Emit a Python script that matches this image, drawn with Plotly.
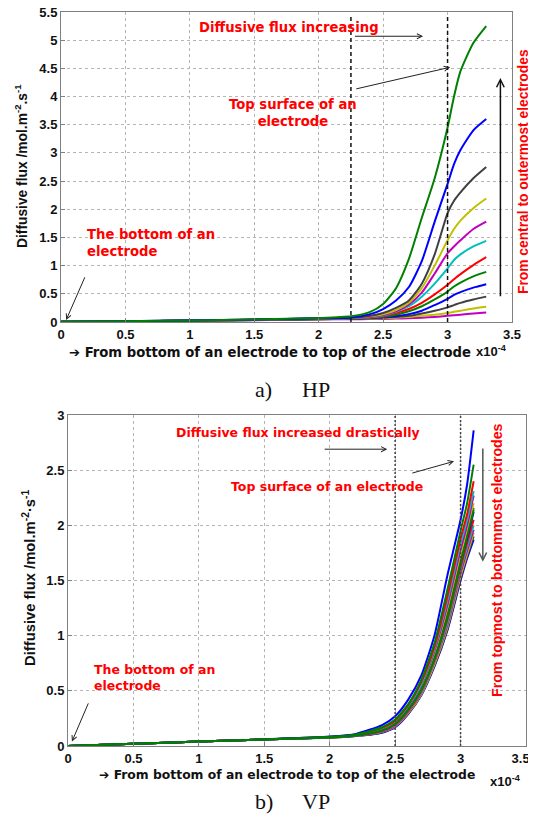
import plotly.graph_objects as go

# ---------------- DATA ----------------
# x positions in units of 1e-4 (axis labelled x10^-4)
hp_x = [0, 0.5, 1.0, 1.5, 2.0, 2.25, 2.4, 2.5, 2.6, 2.7, 2.8, 2.9, 3.0, 3.05, 3.1, 3.2, 3.3]

# HP curves, from lowest (innermost) to highest (outermost)
hp_m2 = [0.005, 0.012, 0.022, 0.033, 0.045, 0.05, 0.052, 0.055, 0.06, 0.065, 0.075, 0.09, 0.11, 0.12, 0.13, 0.15, 0.17]
hp_y2 = [0.005, 0.012, 0.022, 0.034, 0.048, 0.055, 0.06, 0.065, 0.075, 0.09, 0.11, 0.13, 0.16, 0.18, 0.2, 0.24, 0.27]
hp_k2 = [0.005, 0.012, 0.023, 0.035, 0.05, 0.058, 0.065, 0.075, 0.09, 0.11, 0.15, 0.2, 0.26, 0.3, 0.34, 0.4, 0.45]
hp_b2 = [0.005, 0.012, 0.023, 0.036, 0.052, 0.06, 0.07, 0.085, 0.105, 0.14, 0.2, 0.3, 0.41, 0.48, 0.53, 0.61, 0.67]
hp_g2 = [0.005, 0.013, 0.024, 0.037, 0.054, 0.063, 0.075, 0.095, 0.13, 0.19, 0.28, 0.4, 0.54, 0.63, 0.7, 0.81, 0.89]
hp_r1 = [0.005, 0.013, 0.024, 0.038, 0.056, 0.066, 0.08, 0.105, 0.16, 0.23, 0.34, 0.49, 0.66, 0.76, 0.85, 1.01, 1.15]
hp_c1 = [0.005, 0.013, 0.025, 0.039, 0.058, 0.068, 0.085, 0.115, 0.18, 0.28, 0.45, 0.68, 0.95, 1.1, 1.2, 1.34, 1.44]
hp_m1 = [0.005, 0.013, 0.025, 0.04, 0.06, 0.07, 0.09, 0.125, 0.19, 0.31, 0.52, 0.86, 1.22, 1.34, 1.45, 1.65, 1.78]
hp_y1 = [0.005, 0.013, 0.026, 0.041, 0.062, 0.072, 0.1, 0.135, 0.21, 0.34, 0.6, 1.0, 1.45, 1.65, 1.8, 2.02, 2.19]
hp_k1 = [0.005, 0.014, 0.026, 0.042, 0.064, 0.075, 0.11, 0.16, 0.25, 0.38, 0.68, 1.2, 1.93, 2.15, 2.3, 2.55, 2.75]
hp_b1 = [0.005, 0.014, 0.027, 0.043, 0.066, 0.08, 0.14, 0.23, 0.38, 0.62, 1.08, 1.78, 2.45, 2.8, 3.05, 3.4, 3.6]
hp_g1 = [0.005, 0.014, 0.028, 0.045, 0.07, 0.1, 0.18, 0.32, 0.6, 1.12, 1.85, 2.55, 3.45, 4.0, 4.45, 4.95, 5.25]

hp_series = [hp_m2, hp_y2, hp_k2, hp_b2, hp_g2, hp_r1, hp_c1, hp_m1, hp_y1, hp_k1, hp_b1, hp_g1]
hp_colors = ["#c000c0", "#c0c000", "#404040", "#0000ff", "#008000", "#ff0000",
             "#00bfbf", "#c000c0", "#c0c000", "#404040", "#0000ff", "#008000"]

vp_x = [0, 0.5, 1.0, 1.5, 2.0, 2.2, 2.4, 2.5, 2.6, 2.7, 2.8, 2.9, 3.0, 3.05, 3.1]

vp_b1 = [0, 0.02, 0.04, 0.06, 0.085, 0.11, 0.19, 0.27, 0.42, 0.64, 1.0, 1.55, 2.05, 2.37, 2.86]
vp_g1 = [0, 0.02, 0.04, 0.06, 0.083, 0.105, 0.17, 0.24, 0.38, 0.6, 0.93, 1.42, 1.95, 2.2, 2.55]
vp_r1 = [0, 0.02, 0.04, 0.06, 0.082, 0.103, 0.165, 0.23, 0.37, 0.58, 0.9, 1.36, 1.88, 2.1, 2.40]
vp_c1 = [0, 0.02, 0.04, 0.06, 0.081, 0.1, 0.16, 0.225, 0.36, 0.56, 0.88, 1.32, 1.83, 2.05, 2.31]
vp_m1 = [0, 0.02, 0.04, 0.06, 0.08, 0.1, 0.155, 0.22, 0.35, 0.55, 0.86, 1.28, 1.78, 2.0, 2.27]
vp_y1 = [0, 0.02, 0.04, 0.06, 0.08, 0.098, 0.15, 0.215, 0.345, 0.54, 0.84, 1.25, 1.74, 1.95, 2.2]
vp_k1 = [0, 0.02, 0.04, 0.06, 0.079, 0.097, 0.148, 0.21, 0.34, 0.53, 0.82, 1.22, 1.7, 1.92, 2.16]
vp_b2 = [0, 0.02, 0.04, 0.06, 0.079, 0.096, 0.145, 0.205, 0.335, 0.52, 0.8, 1.19, 1.67, 1.88, 2.12]
vp_g2 = [0, 0.02, 0.04, 0.06, 0.078, 0.095, 0.14, 0.2, 0.33, 0.51, 0.79, 1.17, 1.65, 1.9, 2.14]
vp_r2 = [0, 0.02, 0.04, 0.06, 0.078, 0.094, 0.138, 0.195, 0.32, 0.5, 0.78, 1.15, 1.62, 1.84, 2.05]
vp_c2 = [0, 0.02, 0.04, 0.06, 0.077, 0.093, 0.135, 0.19, 0.315, 0.49, 0.77, 1.12, 1.6, 1.8, 2.0]
vp_m2 = [0, 0.02, 0.04, 0.06, 0.077, 0.092, 0.132, 0.185, 0.31, 0.48, 0.76, 1.1, 1.57, 1.77, 1.96]
vp_y2 = [0, 0.02, 0.04, 0.06, 0.076, 0.091, 0.128, 0.18, 0.3, 0.47, 0.74, 1.08, 1.54, 1.74, 1.93]
vp_k2 = [0, 0.02, 0.04, 0.06, 0.076, 0.09, 0.125, 0.175, 0.295, 0.465, 0.73, 1.06, 1.52, 1.72, 1.9]
vp_b3 = [0, 0.02, 0.04, 0.06, 0.075, 0.09, 0.12, 0.17, 0.29, 0.46, 0.72, 1.05, 1.5, 1.7, 1.87]

vp_series = [vp_b3, vp_k2, vp_y2, vp_m2, vp_c2, vp_r2, vp_b2, vp_k1, vp_y1, vp_m1,
             vp_c1, vp_r1, vp_b1, vp_g2, vp_g1]
vp_colors = ["#0000ff", "#404040", "#c0c000", "#c000c0", "#00bfbf", "#ff0000", "#0000ff",
             "#404040", "#c0c000", "#c000c0", "#00bfbf", "#ff0000", "#0000ff", "#008000", "#008000"]

x_ticks = [0, 0.5, 1, 1.5, 2, 2.5, 3, 3.5]
x_ticktext = ["0", "0.5", "1", "1.5", "2", "2.5", "3", "3.5"]
# last VP label is pushed left (as in the original) so it stays inside the window
vp_x_ticktext = ["0", "0.5", "1", "1.5", "2", "2.5", "3", "3.5\u00a0\u00a0\u00a0"]
hp_y_ticks = [0, 0.5, 1, 1.5, 2, 2.5, 3, 3.5, 4, 4.5, 5, 5.5]
hp_y_ticktext = ["0", "0.5", "1", "1.5", "2", "2.5", "3", "3.5", "4", "4.5", "5", "5.5"]
vp_y_ticks = [0, 0.5, 1, 1.5, 2, 2.5, 3]
vp_y_ticktext = ["0", "0.5", "1", "1.5", "2", "2.5", "3"]

hp_vlines = [2.25, 3.0]
vp_vlines = [2.5, 3.0]

# ---------------- FIGURE ----------------
OFF = 8            # page body margin of the html page
W, H = 528, 807    # figure size so that figure + page margin fills the window


def px(x):
    return (x - OFF) / W


def py(y):
    return 1 - (y - OFF) / H


fig = go.Figure()

for ys, col in zip(hp_series, hp_colors):
    fig.add_trace(go.Scatter(x=hp_x, y=ys, mode="lines", xaxis="x", yaxis="y",
                             line=dict(color=col, width=2, shape="spline", smoothing=0.6),
                             showlegend=False, hoverinfo="skip"))
for ys, col in zip(vp_series, vp_colors):
    fig.add_trace(go.Scatter(x=vp_x, y=ys, mode="lines", xaxis="x2", yaxis="y2",
                             line=dict(color=col, width=2, shape="spline", smoothing=0.6),
                             showlegend=False, hoverinfo="skip"))

TICKFONT = dict(family="Arial, Liberation Sans", size=13, color="#111", weight="bold")


def ax_common():
    return dict(showgrid=True, gridcolor="#b5b5b5", griddash="dot", gridwidth=1,
                showline=True, mirror=True, linecolor="#808080", linewidth=1,
                ticks="inside", ticklen=4, tickcolor="#808080", ticklabeloverflow="allow",
                tickfont=TICKFONT, zeroline=False, fixedrange=True, automargin=False)


fig.update_layout(
    width=W, height=H, margin=dict(l=0, r=0, t=0, b=0, autoexpand=False),
    paper_bgcolor="white", plot_bgcolor="white",
    xaxis=dict(domain=[px(61), px(512)], range=[0, 3.5], tickvals=x_ticks, ticktext=x_ticktext,
               anchor="y", **ax_common()),
    yaxis=dict(domain=[py(322), py(12)], range=[0, 5.5], tickvals=hp_y_ticks,
               ticktext=hp_y_ticktext, anchor="x", **ax_common()),
    xaxis2=dict(domain=[px(68), px(526)], range=[0, 3.5], tickvals=x_ticks, ticktext=vp_x_ticktext,
                anchor="y2", **ax_common()),
    yaxis2=dict(domain=[py(746), py(415)], range=[0, 3], tickvals=vp_y_ticks,
                ticktext=vp_y_ticktext, anchor="x2", **ax_common()),
)

shapes = []
for xv in hp_vlines:
    shapes.append(dict(type="line", xref="x", yref="y", x0=xv, x1=xv, y0=0, y1=5.45,
                       line=dict(color="#111", width=1.5, dash="4px,3px")))
for xv in vp_vlines:
    shapes.append(dict(type="line", xref="x2", yref="y2", x0=xv, x1=xv, y0=0, y1=3,
                       line=dict(color="#444", width=1.5, dash="2px,2px")))
fig.update_layout(shapes=shapes)

RED_HP = dict(family="DejaVu Sans", size=13.2, color="#ff0000", weight="bold")
RED_VP = dict(family="DejaVu Sans", size=12.5, color="#ff0000", weight="bold")
RED_V1 = dict(family="Arial, Liberation Sans", size=13.8, color="#ff0000", weight="bold")
RED_V2 = dict(family="Arial, Liberation Sans", size=14.2, color="#ff0000", weight="bold")
XLBL_HP = dict(family="DejaVu Sans", size=13.2, color="#111", weight="bold")
XLBL_VP = dict(family="DejaVu Sans", size=12.35, color="#111", weight="bold")
YLBL_HP = dict(family="Arial, Liberation Sans", size=13.8, color="#111", weight="bold")
YLBL_VP = dict(family="Arial, Liberation Sans", size=14.8, color="#111", weight="bold")
EXP = dict(family="Arial, Liberation Sans", size=13, color="#111", weight="bold")
CAP = dict(family="Times New Roman, Liberation Serif, serif", size=22, color="#111")

ARW = dict(showarrow=True, arrowhead=5, arrowsize=1, arrowwidth=1, arrowcolor="#222", text="")


def paper_text(x, y, text, font, angle=0, xanchor="center"):
    return dict(xref="paper", yref="paper", x=px(x), y=py(y), text=text, font=font,
                textangle=angle, showarrow=False, xanchor=xanchor, yanchor="middle")


ann = []
# ---- HP annotations ----
ann.append(dict(xref="x", yref="y", x=1.77, y=5.23, text="Diffusive flux increasing",
                showarrow=False, font=RED_HP, xanchor="center", yanchor="middle"))
ann.append(dict(xref="x", yref="y", x=2.81, y=5.07, ax=2.27, ay=5.07, axref="x", ayref="y", **ARW))
ann.append(dict(xref="x", yref="y", x=3.02, y=4.52, ax=2.28, ay=4.13, axref="x", ayref="y", **ARW))
ann.append(dict(xref="x", yref="y", x=1.80, y=3.71, text="Top surface of an<br>electrode",
                showarrow=False, font=RED_HP, align="center", xanchor="center", yanchor="middle"))
ann.append(dict(xref="x", yref="y", x=0.19, y=1.40, text="The bottom of an<br>electrode",
                showarrow=False, font=RED_HP, align="left", xanchor="left", yanchor="middle"))
ann.append(dict(xref="x", yref="y", x=0.04, y=0.035, ax=0.19, ay=0.82, axref="x", ayref="y", **ARW))
ann.append(dict(xref="x", yref="y", x=3.41, y=4.33, ax=3.41, ay=0.43, axref="x", ayref="y",
                text="", showarrow=True, arrowhead=5, arrowsize=1, arrowwidth=1.5, arrowcolor="#111"))
ann.append(paper_text(523, 172, "From central to outermost electrodes", RED_V1, angle=-90))
ann.append(paper_text(21, 166, "Diffusive flux /mol.m<sup>-2</sup>.s<sup>-1</sup>", YLBL_HP, angle=-90))
ann.append(paper_text(67, 352, "\u2794 From bottom of an electrode to top of the electrode",
                      XLBL_HP, xanchor="left"))
ann.append(paper_text(474, 351, "x10<sup>-4</sup>", EXP, xanchor="left"))
ann.append(paper_text(253, 389, "a)", CAP, xanchor="left"))
ann.append(paper_text(300, 389, "HP", CAP, xanchor="left"))

# ---- VP annotations ----
ann.append(dict(xref="x2", yref="y2", x=1.76, y=2.84, text="Diffusive flux increased drastically",
                showarrow=False, font=RED_VP, xanchor="center", yanchor="middle"))
ann.append(dict(xref="x2", yref="y2", x=2.44, y=2.69, ax=1.95, ay=2.69, axref="x2", ayref="y2", **ARW))
ann.append(dict(xref="x2", yref="y2", x=2.95, y=2.58, ax=2.62, ay=2.47, axref="x2", ayref="y2", **ARW))
ann.append(dict(xref="x2", yref="y2", x=1.98, y=2.35, text="Top surface of an electrode",
                showarrow=False, font=RED_VP, xanchor="center", yanchor="middle"))
ann.append(dict(xref="x2", yref="y2", x=0.18, y=0.62, text="The bottom of an<br>electrode",
                showarrow=False, font=RED_VP, align="left", xanchor="left", yanchor="middle"))
ann.append(dict(xref="x2", yref="y2", x=0.03, y=0.04, ax=0.16, ay=0.40, axref="x2", ayref="y2", **ARW))
ann.append(dict(xref="x2", yref="y2", x=3.17, y=1.67, ax=3.17, ay=2.71, axref="x2", ayref="y2",
                text="", showarrow=True, arrowhead=5, arrowsize=1, arrowwidth=1.5, arrowcolor="#555"))
ann.append(paper_text(497, 560, "From topmost to bottommost electrodes", RED_V2, angle=-90))
ann.append(paper_text(29, 578, "Diffusive flux /mol.m<sup>-2</sup>\u00b7s<sup>-1</sup>", YLBL_VP, angle=-90))
ann.append(paper_text(97, 775, "\u2794 From bottom of an electrode to top of the electrode",
                      XLBL_VP, xanchor="left"))
ann.append(paper_text(488, 781, "x10<sup>-4</sup>", EXP, xanchor="left"))
ann.append(paper_text(253, 801, "b)", CAP, xanchor="left"))
ann.append(paper_text(300, 801, "VP", CAP, xanchor="left"))

fig.update_layout(annotations=ann)
fig.write_html("out.html")
